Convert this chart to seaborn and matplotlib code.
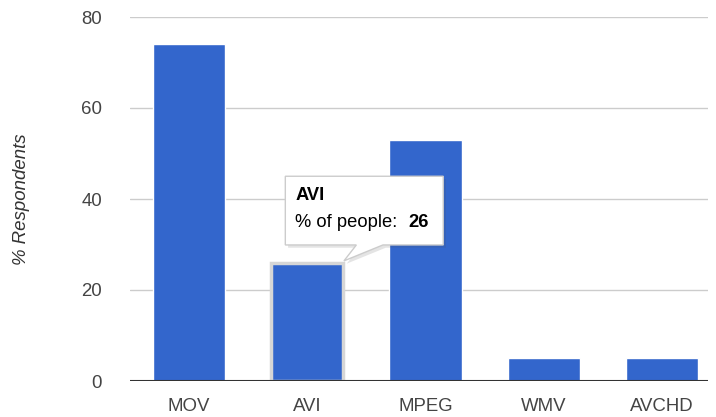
import matplotlib
matplotlib.use("Agg")
import matplotlib.pyplot as plt
import matplotlib.patheffects as pe
from matplotlib.patches import Polygon
import seaborn as sns

formats = ["MOV", "AVI", "MPEG", "WMV", "AVCHD"]
respondents = [74, 26, 53, 5, 5]
yticks = [0, 20, 40, 60, 80]

sns.set_style("white")
plt.rcParams['font.family'] = ['Liberation Sans', 'DejaVu Sans']

fig = plt.figure(figsize=(7.16, 4.17), dpi=100)
ax = fig.add_axes([130/716, 36/417, 578/716, 364/417])

sns.barplot(x=formats, y=respondents, color="#3366cc", saturation=1,
            width=0.61, ax=ax, zorder=3)

# hovered bar gets a light ring
hov = ax.patches[1]
hov.set_edgecolor("#d6d6d6")
hov.set_linewidth(2.5)

ax.set_ylim(0, 80)
ax.set_xlim(-0.5, 4.39)
ax.set_yticks(yticks)
ax.yaxis.grid(True, color="#cccccc", lw=1, zorder=0)
for s in ax.spines.values():
    s.set_visible(False)
ax.axhline(0, color="#333333", lw=1.5, zorder=4)
ax.tick_params(axis="both", length=0, labelsize=13.4, labelcolor="#444444")
ax.tick_params(axis="y", pad=20)
ax.tick_params(axis="x", pad=12)
ax.set_xlabel("")
ax.set_ylabel("% Respondents", fontsize=13.4, style="italic", color="#333333",
              labelpad=37)

# tooltip for the AVI bar
tip = Polygon([(0.814, 45.0), (2.15, 45.0), (2.15, 29.9), (1.64, 29.9),
               (1.31, 26.4), (1.415, 29.9), (0.814, 29.9)],
              closed=True, facecolor="white", edgecolor="#cccccc", lw=1,
              zorder=6, clip_on=False,
              path_effects=[pe.SimplePatchShadow(offset=(2, -2), alpha=0.15),
                            pe.Normal()])
ax.add_patch(tip)
ax.text(0.898, 40.7, "AVI", fontsize=13.2, fontweight="bold", color="#000000",
        va="center", ha="left", zorder=7)
ax.text(0.898, 34.9, "% of people:", fontsize=13.2, color="#000000",
        va="center", ha="left", zorder=7)
ax.text(1.856, 34.9, "26", fontsize=13.2, fontweight="bold", color="#000000",
        va="center", ha="left", zorder=7)

fig.savefig("out.png", dpi=100)
